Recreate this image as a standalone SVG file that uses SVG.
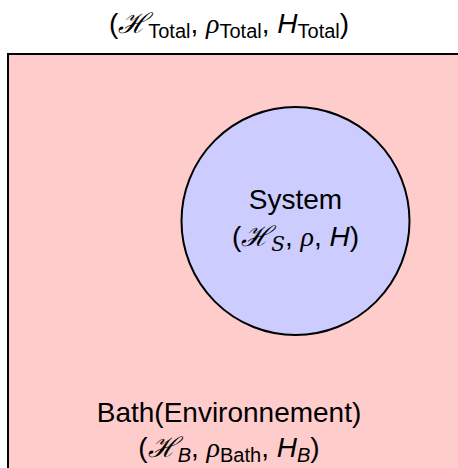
<svg xmlns="http://www.w3.org/2000/svg" width="458" height="468" viewBox="0 0 458 468">
<style>
.t{font-family:"Liberation Sans",Arial,sans-serif;font-size:28px;fill:#000;text-anchor:middle}
.cal{font-family:"DejaVu Serif","Liberation Serif",serif;font-style:italic}
.rho{font-family:"Liberation Serif",serif;font-style:italic}
.it{font-style:italic}
.sub{font-size:20px}
</style>
<rect width="458" height="468" fill="#fff"/>
<g id="bath">
<rect x="8" y="54" width="470" height="430" fill="#ffcccc" stroke="#000" stroke-width="2"/>
<text class="t" x="229" y="422">Bath(Environnement)</text>
<text class="t" x="229" y="457">(<tspan class="cal">ℋ</tspan><tspan class="sub it" dy="5">B</tspan><tspan dy="-5">, </tspan><tspan class="rho">ρ</tspan><tspan class="sub" dy="5">Bath</tspan><tspan dy="-5">, </tspan><tspan class="it">H</tspan><tspan class="sub it" dy="5">B</tspan><tspan dy="-5">)</tspan></text>
</g>
<g id="system">
<circle cx="295.5" cy="221" r="114" fill="#ccccff" stroke="#000" stroke-width="2"/>
<text class="t" x="295.5" y="209">System</text>
<text class="t" x="295.5" y="246">(<tspan class="cal">ℋ</tspan><tspan class="sub cal" dy="5">S</tspan><tspan dy="-5">, </tspan><tspan class="rho">ρ</tspan><tspan>, </tspan><tspan class="it">H</tspan>)</text>
</g>
<g id="total">
<text class="t" x="229" y="33">(<tspan class="cal">ℋ</tspan><tspan class="sub" dy="5">Total</tspan><tspan dy="-5">, </tspan><tspan class="rho">ρ</tspan><tspan class="sub" dy="5">Total</tspan><tspan dy="-5">, </tspan><tspan class="it">H</tspan><tspan class="sub" dy="5">Total</tspan><tspan dy="-5">)</tspan></text>
</g>
<g id="connectors"/>
</svg>
